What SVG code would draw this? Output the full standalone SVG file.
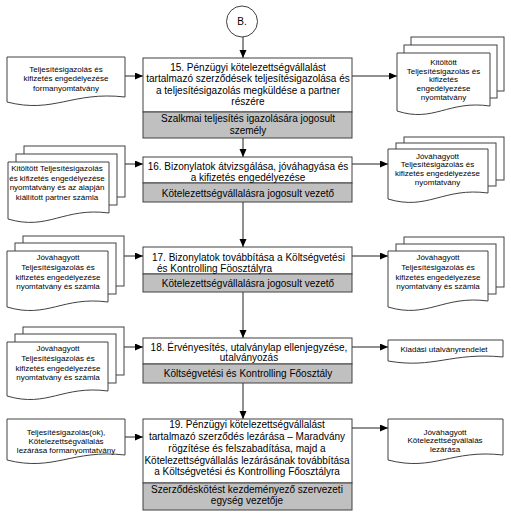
<svg xmlns="http://www.w3.org/2000/svg" width="511" height="526" viewBox="0 0 511 526">
<defs>
<marker id="ah" markerUnits="userSpaceOnUse" markerWidth="9" markerHeight="8" refX="8" refY="3.5" orient="auto">
<path d="M0,0 L8,3.5 L0,7 Z" fill="#000"/>
</marker>
<style>
.bx{fill:#fff;stroke:#404040;stroke-width:1}
.gr{fill:#c0c0c0;stroke:#404040;stroke-width:1}
.pg{fill:#fff;stroke:#404040;stroke-width:1}
.t{font-family:"Liberation Sans",Arial,sans-serif;font-size:10px;fill:#000;text-anchor:middle}
.s{font-family:"Liberation Sans",Arial,sans-serif;font-size:8px;fill:#000;text-anchor:middle}
.c{fill:none;stroke:#222;stroke-width:1;marker-end:url(#ah)}
</style>
</defs>
<rect width="511" height="526" fill="#fff"/>

<g id="start">
<circle cx="242" cy="21.5" r="15.5" class="bx"/>
<text x="242" y="25" class="t">B.</text>
</g>

<g id="connectors">
<path class="c" d="M243,37 V58"/>
<path class="c" d="M243,138 V157"/>
<path class="c" d="M243,202 V247"/>
<path class="c" d="M243,292 V338"/>
<path class="c" d="M243,383 V419"/>
<path class="c" d="M125,76 H143"/>
<path class="c" d="M352,76 H397"/>
<path class="c" d="M125,164 H143"/>
<path class="c" d="M352,164 H388"/>
<path class="c" d="M124,256 H143"/>
<path class="c" d="M352,256 H388"/>
<path class="c" d="M124,347 H143"/>
<path class="c" d="M352,347 H388"/>
<path class="c" d="M125,437 H143"/>
<path class="c" d="M352,428 H388"/>
</g>

<g id="step15">
<rect x="143" y="58" width="209" height="54" class="bx"/>
<rect x="143" y="112" width="209" height="26" class="gr"/>
<text class="t"><tspan x="248" y="70.5">15. Pénzügyi kötelezettségvállalást</tspan><tspan x="248" y="82">tartalmazó szerződések teljesítésigazolása és</tspan><tspan x="248" y="93.5">a teljesítésigazolás megküldése a partner</tspan><tspan x="248" y="105">részére</tspan></text>
<text class="t"><tspan x="248" y="122">Szalkmai teljesítés igazolására jogosult</tspan><tspan x="248" y="133.5">személy</tspan></text>
</g>

<g id="step16">
<rect x="143" y="157" width="209" height="26" class="bx"/>
<rect x="143" y="183" width="209" height="19" class="gr"/>
<text class="t"><tspan x="248" y="170">16. Bizonylatok átvizsgálása, jóváhagyása és</tspan><tspan x="248" y="181">a kifizetés engedélyezése</tspan></text>
<text x="248" y="197" class="t">Kötelezettségvállalásra jogosult vezető</text>
</g>

<g id="step17">
<rect x="143" y="247" width="209" height="27" class="bx"/>
<rect x="143" y="274" width="209" height="18" class="gr"/>
<text class="t" style="text-anchor:start"><tspan x="152" y="261">17. Bizonylatok továbbítása a Költségvetési</tspan><tspan x="157" y="271.5">és Kontrolling Föosztályra</tspan></text>
<text x="248" y="287" class="t">Kötelezettségvállalásra jogosult vezető</text>
</g>

<g id="step18">
<rect x="143" y="338" width="209" height="26" class="bx"/>
<rect x="143" y="364" width="209" height="19" class="gr"/>
<text class="t"><tspan x="249" y="350.5">18. Érvényesítés, utalványlap ellenjegyzése,</tspan><tspan x="249" y="361">utalványozás</tspan></text>
<text x="248" y="377" class="t">Költségvetési és Kontrolling Főosztály</text>
</g>

<g id="step19">
<rect x="143" y="419" width="209" height="64" class="bx"/>
<rect x="143" y="483" width="209" height="27" class="gr"/>
<text class="t"><tspan x="247" y="428">19. Pénzügyi kötelezettségvállalást</tspan><tspan x="247" y="440">tartalmazó szerződés lezárása – Maradvány</tspan><tspan x="247" y="451.5">rögzítése és felszabadítása, majd a</tspan><tspan x="247" y="463.5">Kötelezettségvállalás lezárásának továbbítása</tspan><tspan x="247" y="475">a Költségvetési és Kontrolling Főosztályra</tspan></text>
<text class="t"><tspan x="247" y="493">Szerződéskötést kezdeményező szervezeti</tspan><tspan x="247" y="504">egység vezetője</tspan></text>
</g>

<g id="docL1">
<path class="pg" d="M7,57 H125 V97 C72,91 54,114 7,102 Z"/>
<text class="s"><tspan x="66" y="71.5">Teljesítésigazolás és</tspan><tspan x="66" y="81">kifizetés engedélyezése</tspan><tspan x="66" y="90.5">formanyomtatvány</tspan></text>
</g>

<g id="docL2">
<rect class="pg" x="24" y="146" width="101" height="51"/>
<rect class="pg" x="16" y="154" width="101" height="51"/>
<path class="pg" d="M8,162 H109 V213 C63.5,207 48.4,231 8,219 Z"/>
<text class="s"><tspan x="57" y="171">Kitöltött Teljesítésigazolás</tspan><tspan x="57" y="180.5">és kifizetés engedélyezése</tspan><tspan x="57" y="190">nyomtatvány és az alapján</tspan><tspan x="57" y="199.5">kiállított partner számla</tspan></text>
</g>

<g id="docL3">
<rect class="pg" x="23" y="236" width="101" height="50"/>
<rect class="pg" x="15" y="243" width="101" height="51"/>
<path class="pg" d="M7,251 H108 V302 C62.5,296 47.4,319 7,307 Z"/>
<text class="s"><tspan x="58" y="260">Jóváhagyott</tspan><tspan x="58" y="270">Teljesítésigazolás és</tspan><tspan x="58" y="279.5">kifizetés engedélyezése</tspan><tspan x="58" y="289">nyomtatvány és számla</tspan></text>
</g>

<g id="docL4">
<rect class="pg" x="23" y="327" width="101" height="48"/>
<rect class="pg" x="15" y="334" width="101" height="49"/>
<path class="pg" d="M7,342 H108 V391 C62.5,385 47.4,408 7,396 Z"/>
<text class="s"><tspan x="58" y="351">Jóváhagyott</tspan><tspan x="58" y="361">Teljesítésigazolás és</tspan><tspan x="58" y="370.5">kifizetés engedélyezése</tspan><tspan x="58" y="380">nyomtatvány és számla</tspan></text>
</g>

<g id="docL5">
<path class="pg" d="M7,419 H125 V455 C72,449 54,472 7,460 Z"/>
<text class="s"><tspan x="66" y="434.5">Teljesítésigazolás(ok),</tspan><tspan x="66" y="443.5">Kötelezettségvállalás</tspan><tspan x="66" y="452.5">lezárása formanyomtatvány</tspan></text>
</g>

<g id="docR1">
<rect class="pg" x="411" y="37" width="93" height="54"/>
<rect class="pg" x="404" y="45" width="93" height="53"/>
<path class="pg" d="M397,53 H490 V106 C448,100 434,123 397,111 Z"/>
<text class="s"><tspan x="443.5" y="64.5">Kitöltött</tspan><tspan x="443.5" y="73.5">Teljesítésigazolás és</tspan><tspan x="443.5" y="82">kifizetés</tspan><tspan x="443.5" y="90.5">engedélyezése</tspan><tspan x="443.5" y="99.5">nyomtatvány</tspan></text>
</g>

<g id="docR2">
<rect class="pg" x="404" y="137" width="100" height="43"/>
<rect class="pg" x="396" y="143" width="100" height="43"/>
<path class="pg" d="M388,149 H488 V193 C443,187 428,211 388,199 Z"/>
<text class="s"><tspan x="437.5" y="158.5">Jóváhagyott</tspan><tspan x="437.5" y="167">Teljesítésigazolás és</tspan><tspan x="437.5" y="175.5">kifizetés engedélyezése</tspan><tspan x="437.5" y="184.5">nyomtatvány</tspan></text>
</g>

<g id="docR3">
<rect class="pg" x="404" y="237" width="100" height="50"/>
<rect class="pg" x="396" y="244" width="100" height="50"/>
<path class="pg" d="M388,251 H488 V301 C443,295 428,319 388,307 Z"/>
<text class="s"><tspan x="438" y="260">Jóváhagyott</tspan><tspan x="438" y="270">Teljesítésigazolás és</tspan><tspan x="438" y="279.5">kifizetés engedélyezése</tspan><tspan x="438" y="289">nyomtatvány és számla</tspan></text>
</g>

<g id="docR4">
<path class="pg" d="M388,340 H503 V357 C451,352 434,369 388,361 Z"/>
<text x="444" y="352" class="s">Kiadási utalványrendelet</text>
</g>

<g id="docR5">
<path class="pg" d="M388,419 H503 V455 C451,449 434,472 388,460 Z"/>
<text class="s"><tspan x="445" y="434.5">Jóváhagyott</tspan><tspan x="445" y="443">Kötelezettségvállalás</tspan><tspan x="445" y="452">lezárása</tspan></text>
</g>
</svg>
